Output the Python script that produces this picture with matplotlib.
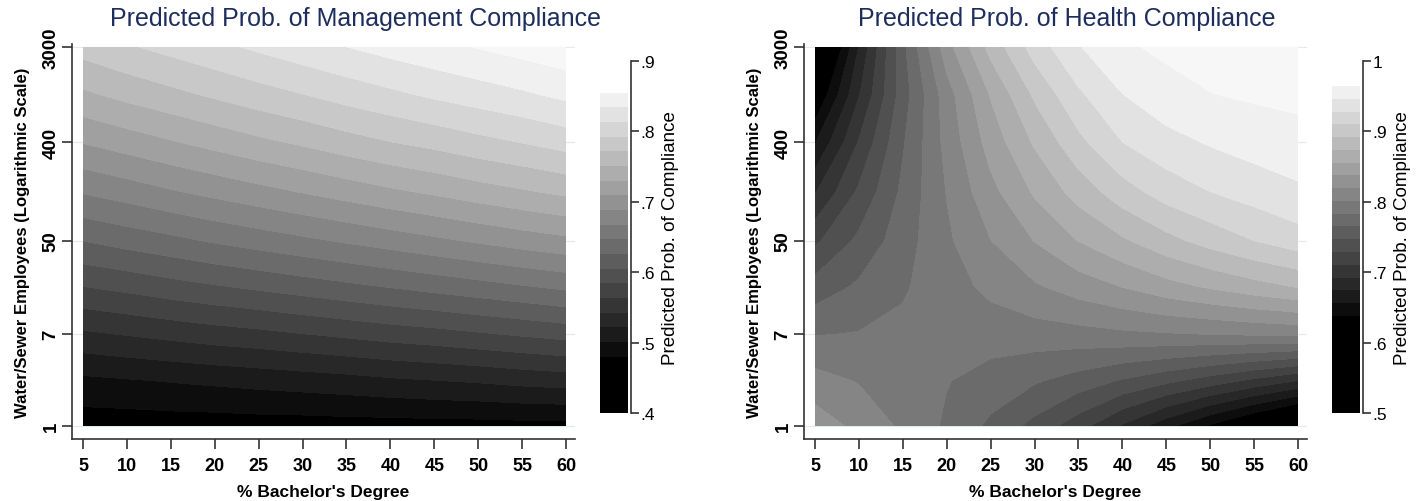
import numpy as np
import matplotlib.pyplot as plt

plt.rcParams['font.family'] = ['Liberation Sans', 'DejaVu Sans']

# predicted probabilities on a grid: columns = % bachelor's degree,
# rows = number of water/sewer employees
bachelors_pct = [5, 10, 15, 20, 25, 30, 35, 40, 45, 50, 55, 60]
employees = [1, 2.6, 7, 19, 50, 140, 400, 1100, 3000]

mgmt_prob = [
    [.468, .468, .469, .469, .470, .470, .471, .471, .472, .472, .473, .473],
    [.496, .499, .502, .505, .508, .511, .514, .518, .521, .524, .528, .531],
    [.539, .544, .549, .554, .558, .563, .568, .573, .577, .582, .587, .592],
    [.584, .590, .597, .603, .609, .615, .621, .627, .633, .639, .645, .651],
    [.626, .634, .641, .649, .656, .663, .670, .677, .684, .691, .698, .704],
    [.669, .677, .686, .694, .702, .710, .718, .726, .733, .741, .748, .755],
    [.710, .719, .728, .737, .746, .754, .763, .771, .778, .786, .793, .801],
    [.747, .757, .766, .775, .784, .792, .801, .809, .817, .824, .831, .839],
    [.780, .790, .799, .808, .817, .826, .834, .842, .849, .856, .863, .870],
]

health_prob = [
    [.830, .814, .798, .780, .761, .741, .718, .690, .662, .635, .610, .585],
    [.808, .800, .792, .784, .776, .767, .757, .745, .733, .720, .706, .692],
    [.782, .784, .787, .789, .791, .793, .795, .798, .800, .802, .804, .806],
    [.754, .768, .781, .793, .806, .817, .828, .838, .849, .858, .867, .875],
    [.725, .751, .775, .798, .819, .838, .856, .871, .886, .899, .910, .920],
    [.691, .732, .769, .802, .832, .858, .881, .902, .918, .928, .936, .943],
    [.655, .712, .763, .807, .845, .876, .905, .928, .940, .948, .954, .958],
    [.617, .691, .756, .811, .857, .895, .925, .946, .958, .964, .967, .969],
    [.579, .675, .760, .830, .880, .918, .945, .962, .968, .972, .974, .976],
]

# contour cut points (lowest band runs from the colorbar floor)
mgmt_cuts = [0.40] + list(np.linspace(0.480, 0.855, 19))
health_cuts = [0.50] + list(np.linspace(0.638, 0.9645, 19))

x_ticks = [5, 10, 15, 20, 25, 30, 35, 40, 45, 50, 55, 60]
y_ticks = [1, 7, 50, 400, 3000]
mgmt_cbar_ticks = [.4, .5, .6, .7, .8, .9]
health_cbar_ticks = [.5, .6, .7, .8, .9, 1.0]

W, H = 1423, 502
TITLE_COLOR = '#1c2d5e'
AXIS_COLOR = '#333333'
N_BANDS = 19
band_colors = [str(round(k * 0.94 / (N_BANDS - 1), 3)) for k in range(N_BANDS)]


def px_axes(fig, left, top, right, bottom):
    return fig.add_axes([left / W, 1 - bottom / H, (right - left) / W, (bottom - top) / H])


def stata_fmt(v):
    s = f'{v:g}'
    return s[1:] if s.startswith('0.') else s


def draw_panel(fig, x0, probs, cuts, cbar_ticks, title, title_x):
    # pixel geometry of the plot region
    x5, x60 = x0 + 11, x0 + 494
    y1, y3000 = 427, 48
    box_l, box_r, box_t, box_b = x0, x60 + 9, 45, 440
    ppu = (x60 - x5) / 55
    top = np.log10(3000)
    ppd = (y1 - y3000) / top

    ax = px_axes(fig, box_l, box_t, box_r, box_b)
    ax.set_xlim(5 - (x5 - box_l) / ppu, 60 + (box_r - x60) / ppu)
    ax.set_ylim(-(box_b - y1) / ppd, top + (y3000 - box_t) / ppd)

    for t in y_ticks:
        ax.axhline(np.log10(t), color='#e3eaee', lw=0.8, zorder=0)

    levels = list(cuts) + [1.0]
    colors = band_colors + ['#f7f7f7']
    ax.contourf(bachelors_pct, np.log10(employees), probs,
                levels=levels, colors=colors, zorder=1)

    for side in ('top', 'right'):
        ax.spines[side].set_visible(False)
    for side in ('left', 'bottom'):
        ax.spines[side].set_color(AXIS_COLOR)
        ax.spines[side].set_linewidth(1.2)

    ax.set_xticks(x_ticks)
    ax.set_xticklabels([str(v) for v in x_ticks], fontsize=13, fontweight='bold')
    ax.set_yticks(np.log10(y_ticks))
    ax.set_yticklabels([str(v) for v in y_ticks], fontsize=13.5, fontweight='bold',
                       rotation=90, va='center')
    ax.tick_params(axis='both', length=7, width=1.2, color=AXIS_COLOR)
    ax.tick_params(axis='x', pad=6)
    ax.tick_params(axis='y', pad=2)
    ax.set_xlabel("% Bachelor's Degree", fontsize=12.5, fontweight='bold', labelpad=7)
    ax.set_ylabel('Water/Sewer Employees (Logarithmic Scale)', fontsize=12,
                  fontweight='bold', labelpad=9)

    fig.text(title_x / W, 1 - 19 / H, title, fontsize=18, color=TITLE_COLOR,
             ha='center', va='center')

    # legend bar
    cb_l = x60 + 34
    cax = px_axes(fig, cb_l, 62, cb_l + 31, 414)
    lo, hi = cbar_ticks[0], cbar_ticks[-1]
    cax.set_ylim(lo, hi)
    cax.set_xlim(0, 1)
    bottoms = np.array(cuts[:-1])
    heights = np.diff(cuts)
    cax.bar(np.full(len(heights), 0.45), heights, width=0.9, bottom=bottoms,
            color=band_colors, linewidth=0)
    for side in ('top', 'left', 'bottom'):
        cax.spines[side].set_visible(False)
    cax.spines['right'].set_color(AXIS_COLOR)
    cax.spines['right'].set_linewidth(1.2)
    cax.set_xticks([])
    cax.yaxis.tick_right()
    cax.set_yticks(cbar_ticks)
    cax.set_yticklabels([stata_fmt(v) for v in cbar_ticks], fontsize=12.5)
    cax.tick_params(axis='y', length=6, width=1.2, color=AXIS_COLOR, pad=1)
    cax.yaxis.set_label_position('right')
    cax.set_ylabel('Predicted Prob. of Compliance', fontsize=13.5, labelpad=5)


fig = plt.figure(figsize=(W / 100, H / 100), dpi=100)
draw_panel(fig, 72, mgmt_prob, mgmt_cuts, mgmt_cbar_ticks,
           'Predicted Prob. of Management Compliance', 356)
draw_panel(fig, 804, health_prob, health_cuts, health_cbar_ticks,
           'Predicted Prob. of Health Compliance', 1067)
fig.savefig('out.png', dpi=100)
